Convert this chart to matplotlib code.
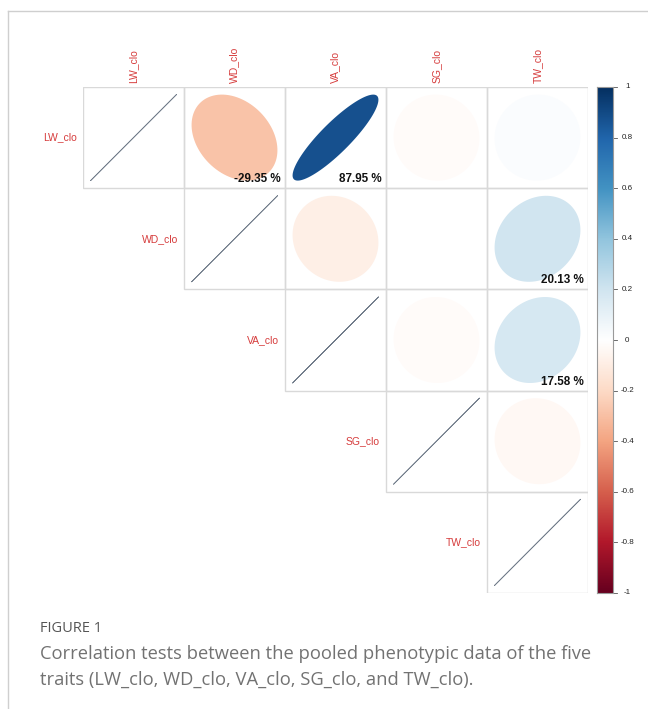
import numpy as np
import matplotlib
matplotlib.use("Agg")
import matplotlib.pyplot as plt
from matplotlib.colors import LinearSegmentedColormap
from matplotlib.patches import Polygon, Rectangle
from matplotlib.lines import Line2D

# trait names and pairwise correlations (upper triangle, row-major)
traits = ["LW_clo", "WD_clo", "VA_clo", "SG_clo", "TW_clo"]
pairs = [(0, 1), (0, 2), (0, 3), (0, 4),
         (1, 2), (1, 3), (1, 4),
         (2, 3), (2, 4),
         (3, 4)]
corr = [-0.2935, 0.8795, -0.02, 0.02,
        -0.09, 0.0, 0.2013,
        -0.02, 0.1758,
        -0.04]
significant = [True, True, False, False,
               False, False, True,
               False, True,
               False]
bar_ticks = [1, 0.8, 0.6, 0.4, 0.2, 0, -0.2, -0.4, -0.6, -0.8, -1]

LABEL_RED = "#d63c3c"
GRID = "#d9d9d9"
palette = ["#67001F", "#B2182B", "#D6604D", "#F4A582", "#FDDBC7", "#FFFFFF",
           "#D1E5F0", "#92C5DE", "#4393C3", "#2166AC", "#053061"]
cmap = LinearSegmentedColormap.from_list("rdbu2", palette, N=201)

n = len(traits)
mat = np.eye(n)
for (i, j), r in zip(pairs, corr):
    mat[i, j] = mat[j, i] = r


def ellipse(rho, cx, cy, scale=0.85, npts=99):
    t = np.linspace(0, 2 * np.pi, npts)
    a = np.arccos(np.clip(rho, -1, 1))
    x = np.cos(t + a / 2) / 2 * scale
    y = np.cos(t - a / 2) / 2 * scale
    return np.column_stack([cx + x, cy + y])


fig = plt.figure(figsize=(6.48, 7.09), dpi=100)
W, H = 648, 709

# page frame lines
fig.add_artist(Line2D([8 / W, 1], [1 - 11 / H] * 2, color="#cfcfcf", lw=1.0))
fig.add_artist(Line2D([8 / W] * 2, [0, 1 - 11 / H], color="#cfcfcf", lw=1.0))

ax = fig.add_axes([83 / W, 1 - 593 / H, 505 / W, 506 / H])
ax.set_xlim(0, n)
ax.set_ylim(0, n)
ax.axis("off")

for i in range(n):
    cy = n - i - 0.5
    for j in range(i, n):
        cx = j + 0.5
        ax.add_patch(Rectangle((j, n - i - 1), 1, 1, fill=False,
                               edgecolor=GRID, lw=1.0, zorder=1))
        r = mat[i, j]
        if i == j:
            pts = ellipse(r, cx, cy)
            ax.plot(pts[:, 0], pts[:, 1], color="#717c8a", lw=0.55, zorder=2)
        else:
            ax.add_patch(Polygon(ellipse(r, cx, cy), closed=True,
                                 facecolor=cmap((r + 1) / 2), edgecolor="none",
                                 zorder=2))

for (i, j), r, sig in zip(pairs, corr, significant):
    if sig:
        ax.text(j + 0.96, n - i - 0.97, f"{r * 100:.2f} %", ha="right",
                va="bottom", fontsize=8.4, fontweight="bold",
                family="Liberation Sans", color="#111111", zorder=3)

# column labels on top, row labels beside the diagonal
for k, name in enumerate(traits):
    ax.text(k + 0.5, n + 0.04, name, rotation=90, ha="center", va="bottom",
            fontsize=7.5, family="Liberation Sans", color=LABEL_RED)
    ax.text(k - 0.06, n - k - 0.5, name, ha="right", va="center",
            fontsize=7.5, family="Liberation Sans", color=LABEL_RED)

# colour bar
cax = fig.add_axes([597 / W, 1 - 593 / H, 16 / W, 506 / H])
grad = np.linspace(-1, 1, 201).reshape(-1, 1)
cax.imshow(grad, cmap=cmap, aspect="auto", origin="lower",
           extent=[0, 1, -1, 1], vmin=-1, vmax=1)
cax.set_xlim(0, 1)
cax.set_ylim(-1, 1)
cax.set_xticks([])
cax.set_yticks([])
for s in cax.spines.values():
    s.set_color("#9a9a9a")
    s.set_linewidth(0.8)
for v in bar_ticks:
    cax.plot([1, 1.25], [v, v], color="#555555", lw=0.6, clip_on=False)
    cax.text(1.9, v, f"{v:g}", ha="center", va="center", fontsize=5.8,
             family="Liberation Sans", color="#222222")

# caption
fig.text(40 / W, 1 - 628 / H, "FIGURE 1", ha="left", va="center",
         fontsize=10.5, family="Open Sans", color="#555555")
fig.text(40 / W, 1 - 667 / H,
         "Correlation tests between the pooled phenotypic data of the five\n"
         "traits (LW_clo, WD_clo, VA_clo, SG_clo, and TW_clo).",
         ha="left", va="center", fontsize=13.2, family="Open Sans",
         color="#727272", linespacing=1.58)

fig.savefig("out.png", dpi=100)
